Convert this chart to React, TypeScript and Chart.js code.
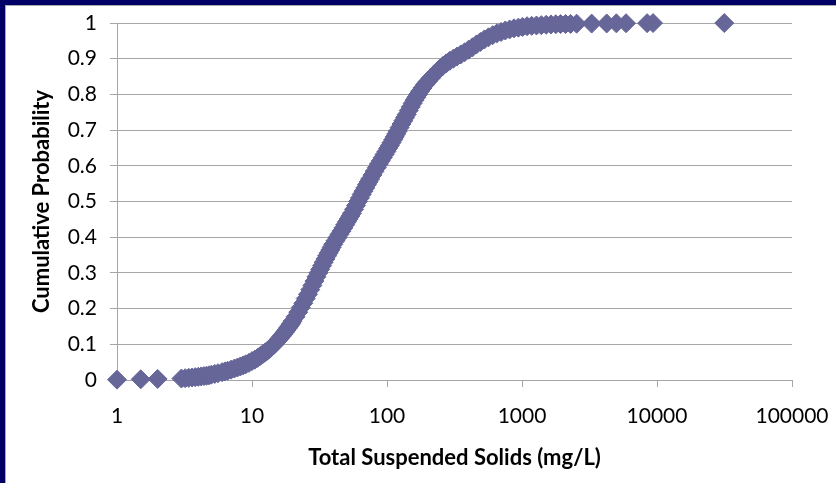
import React, { useEffect, useRef } from "react";
import { Chart, registerables } from "chart.js";

Chart.register(...registerables);

// Total suspended solids (mg/L), sorted
const tssValues = [
  1, 1.5, 2, 3, 3.2, 3.4, 3.6, 3.8, 4, 4.2, 4.4, 4.6, 4.8, 5, 5.3, 5.6, 6, 6.3, 6.6, 7,
  7.4, 7.8, 8.2, 8.6, 9, 9.5, 10, 10.5, 11, 11.5, 12, 12.5, 13, 13.5, 14, 14.5, 15, 15.5, 16, 16.5,
  17, 17.5, 18, 18.5, 19, 19.5, 20, 21, 22, 23, 24, 25, 26, 27, 28, 29, 30, 31, 32, 33,
  34, 35, 36, 37, 38, 39, 40, 41.5, 43, 44.5, 46, 47.5, 49, 50.5, 52, 53.5, 55, 57, 59, 61,
  63, 65, 67, 69, 71, 73, 75, 78, 81, 84, 87, 90, 93, 96, 99, 102, 105, 108, 111, 114,
  117, 120, 124, 128, 132, 136, 140, 145, 150, 155, 160, 165, 170, 176, 183, 191, 200, 210, 221, 233,
  246, 260, 275, 292, 310, 330, 352, 376, 402, 430, 460, 492, 527, 565, 607, 652, 700, 752, 810, 872,
  940, 1010, 1090, 1180, 1280, 1390, 1510, 1640, 1780, 1930, 2100, 2290, 2540, 3280, 4240, 5000, 5900, 8450, 9350, 31500,
];

// Cumulative probability of each value
const cumulativeProbability = [
  0.001, 0.002, 0.003, 0.004, 0.005, 0.006, 0.007, 0.008, 0.009, 0.01, 0.011, 0.012, 0.013, 0.015, 0.017, 0.019, 0.022, 0.024, 0.026, 0.029,
  0.032, 0.035, 0.038, 0.041, 0.044, 0.048, 0.053, 0.057, 0.062, 0.067, 0.072, 0.077, 0.082, 0.087, 0.093, 0.098, 0.104, 0.11, 0.116, 0.122,
  0.128, 0.134, 0.14, 0.146, 0.152, 0.158, 0.165, 0.177, 0.19, 0.203, 0.215, 0.228, 0.24, 0.253, 0.265, 0.277, 0.289, 0.3, 0.31, 0.32,
  0.33, 0.339, 0.348, 0.356, 0.364, 0.372, 0.38, 0.39, 0.399, 0.408, 0.417, 0.426, 0.435, 0.443, 0.451, 0.459, 0.467, 0.478, 0.489, 0.5,
  0.51, 0.52, 0.529, 0.538, 0.547, 0.555, 0.563, 0.574, 0.585, 0.595, 0.605, 0.614, 0.623, 0.632, 0.64, 0.649, 0.657, 0.665, 0.673, 0.681,
  0.689, 0.697, 0.707, 0.717, 0.726, 0.735, 0.744, 0.755, 0.765, 0.775, 0.784, 0.792, 0.8, 0.809, 0.818, 0.827, 0.836, 0.845, 0.854, 0.863,
  0.872, 0.88, 0.887, 0.894, 0.9, 0.906, 0.912, 0.918, 0.925, 0.932, 0.94, 0.947, 0.954, 0.96, 0.966, 0.971, 0.975, 0.979, 0.982, 0.985,
  0.987, 0.989, 0.991, 0.992, 0.993, 0.994, 0.995, 0.996, 0.9965, 0.997, 0.9972, 0.9975, 0.998, 0.9983, 0.9987, 0.999, 0.9993, 0.9996, 0.9998, 1,
];

const xTickValues = [1, 10, 100, 1000, 10000, 100000];
const yTickValues = [0, 0.1, 0.2, 0.3, 0.4, 0.5, 0.6, 0.7, 0.8, 0.9, 1];

const xTitle = "Total Suspended Solids (mg/L)";
const yTitle = "Cumulative Probability";

const MARKER = "#666699";
const GRID = "#A6A6A6";
const FONT = "Lato";

export default function App() {
  const ref = useRef<HTMLCanvasElement>(null);

  useEffect(() => {
    document.body.style.margin = "0";
    const points = tssValues.map((x, i) => ({ x, y: cumulativeProbability[i] }));
    const chart = new Chart(ref.current as HTMLCanvasElement, {
      type: "scatter",
      data: {
        datasets: [
          {
            data: points,
            pointStyle: "rectRot",
            pointRadius: 9.5,
            pointHoverRadius: 9.5,
            backgroundColor: MARKER,
            borderColor: MARKER,
            borderWidth: 1,
            clip: false,
          } as any,
        ],
      },
      options: {
        animation: false,
        responsive: false,
        devicePixelRatio: 1,
        events: [],
        layout: { padding: { top: 23, right: 44, bottom: 0, left: 0 } },
        plugins: { legend: { display: false }, tooltip: { enabled: false } },
        scales: {
          x: {
            type: "logarithmic",
            min: 1,
            max: 100000,
            afterBuildTicks: (s: any) => {
              s.ticks = xTickValues.map((v) => ({ value: v }));
            },
            afterFit: (s: any) => {
              s.height = 103;
              s.paddingLeft = 0;
              s.paddingRight = 0;
            },
            ticks: {
              autoSkip: false,
              maxRotation: 0,
              padding: 17,
              color: "#000",
              font: { family: FONT, size: 21 },
              callback: (v: any) => String(v),
            },
            grid: { drawOnChartArea: false, drawTicks: true, tickLength: 7, color: GRID },
            border: { color: GRID },
            title: {
              display: true,
              text: xTitle,
              color: "#000",
              font: { family: FONT, size: 22, weight: "bold" },
              padding: { top: 0, bottom: 12 },
            },
          },
          y: {
            type: "linear",
            min: 0,
            max: 1,
            afterBuildTicks: (s: any) => {
              s.ticks = yTickValues.map((v) => ({ value: v }));
            },
            afterFit: (s: any) => {
              s.width = 117;
              s.paddingTop = 0;
              s.paddingBottom = 0;
            },
            ticks: {
              padding: 13,
              color: "#000",
              font: { family: FONT, size: 21 },
              callback: (v: any) => String(Math.round(Number(v) * 10) / 10),
            },
            grid: { color: GRID, tickLength: 7 },
            border: { color: GRID },
            title: {
              display: true,
              text: yTitle,
              color: "#000",
              font: { family: FONT, size: 22, weight: "bold" },
              padding: { top: 29, bottom: 0 },
            },
          },
        },
      } as any,
    });
    return () => chart.destroy();
  }, []);

  return (
    <div
      style={{
        position: "fixed",
        left: 0,
        top: 0,
        width: 836,
        height: 483,
        background: "#000066",
        overflow: "hidden",
      }}
    >
      <div
        style={{
          position: "absolute",
          left: 5,
          top: 5,
          width: 900,
          height: 600,
          background: "#ffffff",
          borderTop: "1px solid #A8A8A8",
          borderLeft: "1px solid #A8A8A8",
        }}
      />
      <canvas
        ref={ref}
        width={836}
        height={483}
        style={{ position: "absolute", left: 0, top: 0, width: 836, height: 483 }}
      />
    </div>
  );
}
